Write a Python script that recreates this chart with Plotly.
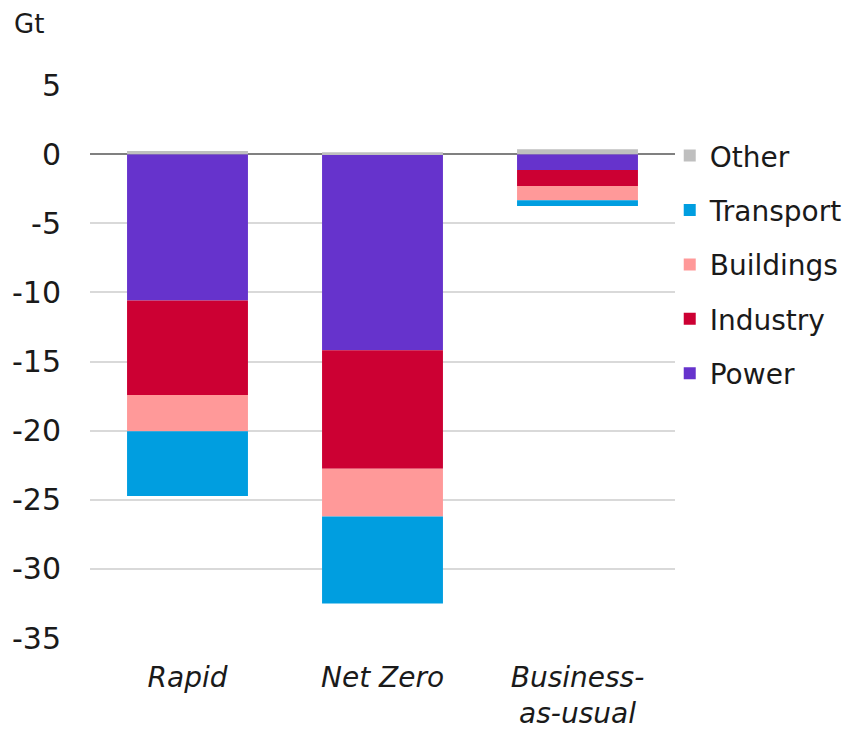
import plotly.graph_objects as go

scenarios = ["Rapid", "Net Zero", "Business-<br>as-usual"]
sectors = ["Power", "Industry", "Buildings", "Transport", "Other"]
power = [-10.58, -14.19, -1.15]
industry = [-6.84, -8.57, -1.15]
buildings = [-2.62, -3.46, -1.04]
transport = [-4.69, -6.28, -0.41]
other = [0.22, 0.13, 0.35]
colors = ["#6633cc", "#cc0033", "#ff9999", "#009ee0", "#bfbfbf"]
legend_ranks = [5, 4, 3, 2, 1]
y_ticks = [5, 0, -5, -10, -15, -20, -25, -30, -35]

series = [power, industry, buildings, transport, other]

FONT = "DejaVu Sans"
TXT = "#1a1a1a"
fig = go.Figure()
for name, vals, col, rk in zip(sectors, series, colors, legend_ranks):
    fig.add_trace(go.Bar(
        x=scenarios, y=vals, name=name, legendgroup=name, legendrank=rk,
        marker=dict(color=col, line=dict(width=0)),
    ))

fig.update_layout(
    barmode="relative",
    bargap=0.38,
    width=850, height=732,
    margin=dict(l=82, r=183, t=77, b=102, autoexpand=False),
    plot_bgcolor="white", paper_bgcolor="white",
    font=dict(family=FONT, size=28, color=TXT),
    showlegend=True,
    legend=dict(
        traceorder="grouped", tracegroupgap=15,
        x=0.991, xanchor="left", y=0.917, yanchor="top",
        font=dict(family=FONT, size=28, color=TXT), itemwidth=30,
        bgcolor="rgba(0,0,0,0)",
    ),
)
fig.add_annotation(text="Gt", xref="paper", yref="paper",
                   x=-0.133, y=1.11, xanchor="left", yanchor="middle",
                   showarrow=False,
                   font=dict(size=26, family=FONT, color=TXT))

fig.update_yaxes(
    range=[-35, 5], tickvals=y_ticks, ticktext=[str(v) for v in y_ticks],
    showgrid=True, gridcolor="#d9d9d9", gridwidth=1.5,
    zeroline=True, zerolinecolor="#808080", zerolinewidth=2,
    ticks="", ticklabelstandoff=28, showline=False, automargin=False,
    tickfont=dict(family=FONT, size=30, color=TXT),
)
fig.update_xaxes(
    tickfont=dict(family=FONT, size=28, style="italic", color=TXT),
    ticks="", showline=False, ticklabelstandoff=20, automargin=False,
)

fig.write_html("out.html")
